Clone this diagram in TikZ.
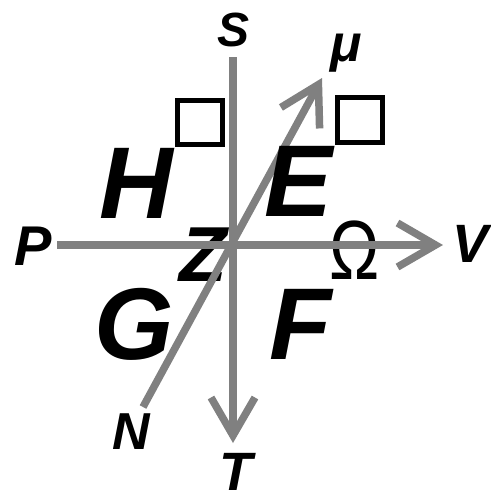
\documentclass[tikz,border=0pt]{standalone}
\usepackage{fontspec}
\setmainfont{Liberation Sans}
\usetikzlibrary{arrows.meta}
\definecolor{axisgray}{RGB}{128,128,128}
\begin{document}
\begin{tikzpicture}[x=1pt,y=-1pt,
  axis/.style={draw=axisgray,line width=7.5pt},
  tipv/.style={-{Straight Barb[length=38pt,width=44pt]}},
  lbl/.style={inner sep=0pt,font=\bfseries\itshape\fontsize{#1}{#1}\selectfont},
  sq/.style={draw=black,line width=5pt,inner sep=0pt}]
\useasboundingbox (0,0) rectangle (490,498);
% labels under the lines
\node[lbl=78] (Z) at (203.5,255) {Z};
\node[inner sep=0pt,font=\fontsize{84}{84}\selectfont] (W) at (355,250) {\scalebox{0.8}[1]{Ω}};
% axes
\coordinate (O) at (233,245);
\coordinate (Stop) at (233,57);
\coordinate (Tend) at (233,443);
\coordinate (Pend) at (57,245);
\coordinate (Vend) at (443,245);
\coordinate (Nend) at (143,407);
\coordinate (Mend) at (322,78);
\draw[axis,tipv] (Stop) -- (Tend);
\draw[axis,tipv] (Pend) -- (Vend);
\draw[axis,tipv] (Nend) -- (Mend);
% labels over the lines
\node[lbl=102] (H) at (136.5,183.5) {H};
\node[lbl=102] (E) at (298.5,181.5) {E};
\node[lbl=102] (G) at (134,324.5) {G};
\node[lbl=102] (F) at (300.5,324) {F};
\node[lbl=54] (V) at (470.5,243.5) {V};
\node[lbl=56] (P) at (33,246) {P};
\node[lbl=48] (S) at (233.5,30) {S};
\node[lbl=52] (mu) at (346,53) {μ};
\node[lbl=52] (N) at (131.5,431.5) {N};
\node[lbl=54] (T) at (236,472) {T};
\node[sq,minimum width=45pt,minimum height=44pt] (bH) at (200,122.5) {};
\node[sq,minimum width=45pt,minimum height=45pt] (bE) at (360,120) {};
\end{tikzpicture}
\end{document}
